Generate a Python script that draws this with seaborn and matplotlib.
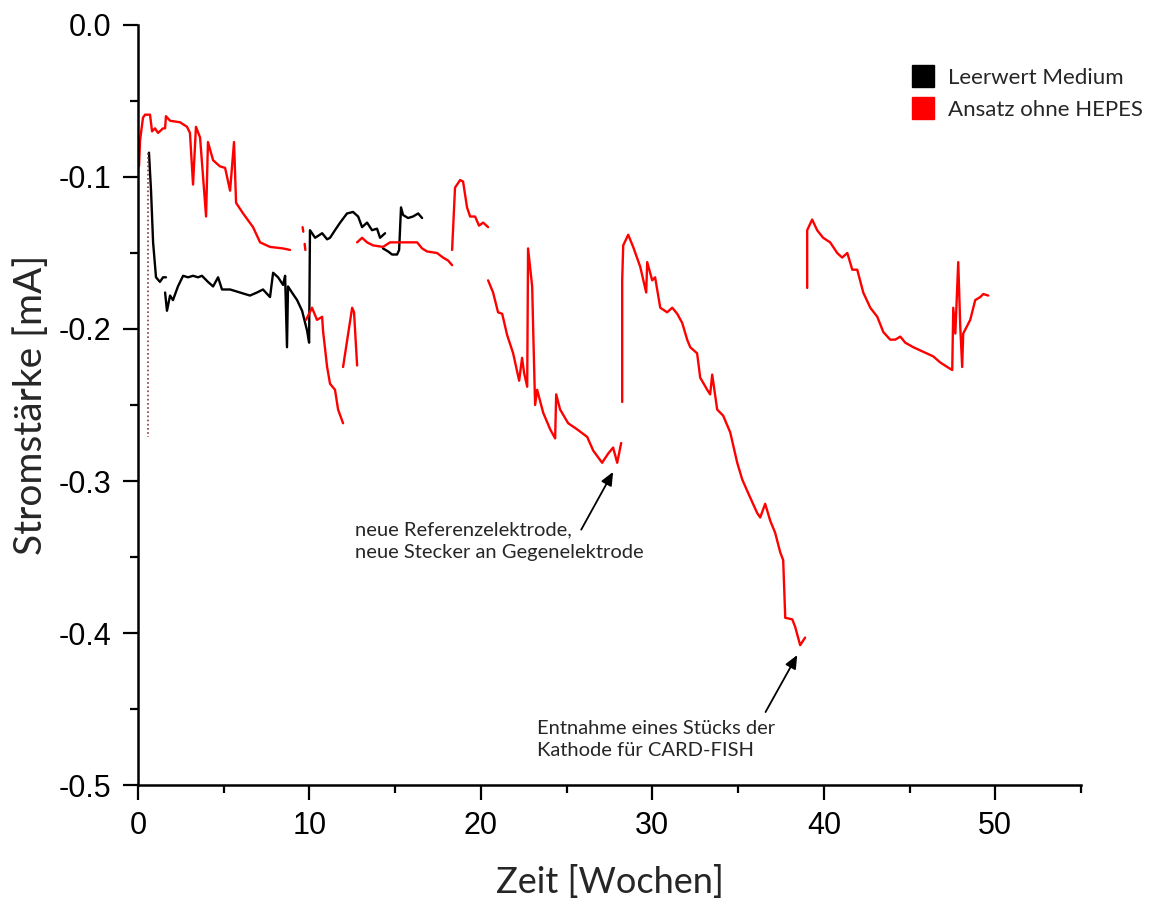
import numpy as np
import pandas as pd
import matplotlib
matplotlib.use("Agg")
import matplotlib.pyplot as plt
import seaborn as sns
from matplotlib.lines import Line2D
from matplotlib.ticker import MultipleLocator, FormatStrFormatter

# ---------------- data ----------------
series_names = ["Leerwert Medium", "Ansatz ohne HEPES"]
series_colors = {"Leerwert Medium": "#000000", "Ansatz ohne HEPES": "#ff0000"}

# Leerwert Medium (black) - one list per recorded segment
black_weeks = [
    [0.64, 0.76, 0.88, 1.05, 1.28, 1.46, 1.63],
    [1.58, 1.69, 1.87, 2.04, 2.33, 2.63, 2.92, 3.21, 3.50, 3.73, 4.08, 4.38, 4.67, 4.90,
     5.37, 5.95, 6.53, 6.94, 7.29, 7.70, 7.88, 8.17, 8.46, 8.58, 8.69, 8.75, 8.98, 9.28,
     9.57, 9.86, 9.98, 10.03, 10.33, 10.74, 11.03, 11.20, 11.49, 11.79, 12.19, 12.54,
     12.84, 13.07, 13.36, 13.65, 13.94, 14.12, 14.41],
    [14.29, 14.59, 14.82, 15.11, 15.23, 15.34, 15.46, 15.75, 16.04, 16.34, 16.57],
]
black_values = [
    [-0.084, -0.109, -0.143, -0.166, -0.169, -0.166, -0.166],
    [-0.176, -0.188, -0.178, -0.181, -0.172, -0.165, -0.166, -0.165, -0.166, -0.165, -0.169,
     -0.172, -0.166, -0.174, -0.174, -0.176, -0.178, -0.176, -0.174, -0.179, -0.163, -0.166,
     -0.171, -0.165, -0.212, -0.172, -0.176, -0.181, -0.188, -0.201, -0.209, -0.135, -0.140,
     -0.137, -0.141, -0.140, -0.135, -0.130, -0.124, -0.123, -0.126, -0.133, -0.130, -0.135,
     -0.134, -0.140, -0.137],
    [-0.147, -0.149, -0.151, -0.151, -0.148, -0.120, -0.125, -0.127, -0.126, -0.124, -0.127],
]
# short dotted trace at the very start of the blank run
dotted_weeks = [0.58, 0.58]
dotted_values = [-0.084, -0.271]

# Ansatz ohne HEPES (red)
red_weeks = [
    [0.06, 0.12, 0.29, 0.41, 0.70, 0.82, 0.99, 1.17, 1.46, 1.58, 1.63, 1.87, 2.45, 2.86,
     3.03, 3.21, 3.38, 3.62, 3.97, 4.08, 4.38, 4.78, 5.08, 5.37, 5.60, 5.72, 6.13, 6.71,
     7.12, 7.70, 8.46, 8.87],
    [9.60, 9.64],
    [9.72, 9.76],
    [9.80, 10.15, 10.44, 10.74, 10.79, 11.03, 11.20, 11.49, 11.67, 11.96],
    [11.96, 12.49, 12.60, 12.78],
    [12.78, 13.07, 13.36, 13.71, 14.29, 14.70, 15.29, 15.75, 16.28, 16.57, 16.86, 17.44,
     17.79, 18.09, 18.32],
    [18.32, 18.49, 18.79, 18.96, 19.19, 19.37, 19.66, 19.89, 20.13, 20.42],
    [20.42, 20.71, 21.00, 21.24, 21.53, 21.88, 22.23, 22.40, 22.52, 22.70, 22.75, 22.99,
     23.05, 23.16, 23.28, 23.63, 24.04, 24.33, 24.39, 24.62, 25.09, 25.61, 26.20, 26.55,
     27.07, 27.42, 27.71, 27.95, 28.18],
    [28.24, 28.24, 28.30, 28.59, 28.88, 29.29, 29.64, 29.70, 29.99, 30.16, 30.46, 30.86,
     31.16, 31.45, 31.74, 32.03, 32.21, 32.61, 32.79, 33.20, 33.37, 33.49, 33.78, 34.13,
     34.54, 34.95, 35.24, 35.71, 36.11, 36.29, 36.58, 36.87, 37.16, 37.46, 37.63, 37.75,
     38.16, 38.33, 38.62, 38.91],
    [39.03, 39.03, 39.32, 39.61, 39.96, 40.37, 40.78, 41.07, 41.37, 41.66, 41.95, 42.30,
     42.71, 43.12, 43.47, 43.87, 44.17, 44.46, 44.75, 45.22, 45.80, 46.38, 46.79, 47.20,
     47.49, 47.55, 47.67, 47.84, 47.96, 48.07, 48.13, 48.54, 48.83, 49.12, 49.30, 49.59],
]
red_values = [
    [-0.093, -0.076, -0.061, -0.059, -0.059, -0.070, -0.068, -0.071, -0.068, -0.068, -0.060,
     -0.063, -0.064, -0.067, -0.071, -0.105, -0.067, -0.074, -0.126, -0.077, -0.089, -0.093,
     -0.094, -0.109, -0.077, -0.117, -0.124, -0.133, -0.143, -0.146, -0.147, -0.148],
    [-0.133, -0.136],
    [-0.144, -0.148],
    [-0.194, -0.186, -0.194, -0.192, -0.201, -0.225, -0.236, -0.240, -0.253, -0.262],
    [-0.225, -0.186, -0.189, -0.224],
    [-0.143, -0.140, -0.143, -0.145, -0.146, -0.143, -0.143, -0.143, -0.143, -0.147, -0.149,
     -0.150, -0.153, -0.155, -0.158],
    [-0.148, -0.107, -0.102, -0.103, -0.120, -0.126, -0.126, -0.132, -0.130, -0.133],
    [-0.168, -0.176, -0.189, -0.190, -0.204, -0.216, -0.234, -0.219, -0.229, -0.238, -0.147,
     -0.172, -0.201, -0.250, -0.240, -0.255, -0.266, -0.272, -0.243, -0.253, -0.262, -0.266,
     -0.271, -0.280, -0.288, -0.282, -0.278, -0.288, -0.275],
    [-0.248, -0.168, -0.145, -0.138, -0.146, -0.159, -0.176, -0.156, -0.168, -0.166, -0.186,
     -0.189, -0.186, -0.190, -0.196, -0.207, -0.212, -0.216, -0.232, -0.240, -0.243, -0.230,
     -0.253, -0.257, -0.268, -0.288, -0.299, -0.311, -0.321, -0.324, -0.315, -0.326, -0.334,
     -0.347, -0.352, -0.390, -0.391, -0.396, -0.408, -0.403],
    [-0.173, -0.135, -0.128, -0.135, -0.140, -0.143, -0.150, -0.153, -0.150, -0.161, -0.161,
     -0.176, -0.186, -0.192, -0.202, -0.207, -0.207, -0.205, -0.209, -0.212, -0.215, -0.218,
     -0.222, -0.225, -0.227, -0.186, -0.203, -0.156, -0.199, -0.225, -0.203, -0.194, -0.181,
     -0.179, -0.177, -0.178],
]

x_ticks = [0, 10, 20, 30, 40, 50]
y_ticks = [0.0, -0.1, -0.2, -0.3, -0.4, -0.5]

note1_text = "neue Referenzelektrode,\nneue Stecker an Gegenelektrode"
note2_text = "Entnahme eines Stücks der\nKathode für CARD-FISH"

# ---------------- build a long table ----------------
rows = []
for name, W, V in [(series_names[0], black_weeks, black_values),
                   (series_names[1], red_weeks, red_values)]:
    for k, (ws, vs) in enumerate(zip(W, V)):
        for w, v in zip(ws, vs):
            rows.append((name, f"{name}-{k}", w, v))
df = pd.DataFrame(rows, columns=["series", "seg", "week", "value"])

# ---------------- style ----------------
sns.set_style("ticks")
plt.rcParams["font.family"] = ["Liberation Sans", "DejaVu Sans"]
plt.rcParams["axes.unicode_minus"] = False

fig = plt.figure(figsize=(11.5, 9.02), dpi=100)
ax = fig.add_axes([0.12, 0.1297, 0.82, 0.8426])

sns.lineplot(data=df, x="week", y="value", hue="series", units="seg",
             estimator=None, sort=False, palette=series_colors,
             hue_order=series_names, legend=False, linewidth=1.7, ax=ax)
ax.plot(dotted_weeks, dotted_values, linestyle=(0, (1, 1.5)), color="#8b3a3a", lw=1.2)

ax.set_xlim(0, 55)
ax.set_ylim(-0.5, 0.0)
ax.set_xticks(x_ticks)
ax.set_yticks(y_ticks)
ax.xaxis.set_minor_locator(MultipleLocator(5))
ax.yaxis.set_minor_locator(MultipleLocator(0.05))
ax.yaxis.set_major_formatter(FormatStrFormatter("%.1f"))

for s in ["top", "right"]:
    ax.spines[s].set_visible(False)
for s in ["left", "bottom"]:
    ax.spines[s].set_linewidth(1.8)
    ax.spines[s].set_color("black")

ax.tick_params(which="major", length=11, width=1.6, direction="out",
               labelsize=22, pad=8, colors="black")
ax.tick_params(which="minor", length=6, width=1.6, direction="out", colors="black")

ax.set_xlabel("Zeit [Wochen]", fontfamily="Lato", fontsize=26, labelpad=17)
ax.set_ylabel("Stromstärke [mA]", fontfamily="Lato", fontsize=28, labelpad=7)

# annotations
ax.text(12.66, -0.3265, note1_text, ha="left", va="top", fontfamily="Lato",
        fontsize=14.5, linespacing=1.4)
ax.annotate("", xy=(27.71, -0.294), xytext=(25.85, -0.332),
            arrowprops=dict(arrowstyle="-|>,head_length=0.8,head_width=0.35",
                            color="black", lw=1.3, shrinkA=0, shrinkB=0))
ax.text(23.28, -0.457, note2_text, ha="left", va="top", fontfamily="Lato",
        fontsize=14.5, linespacing=1.4)
ax.annotate("", xy=(38.45, -0.4145), xytext=(36.6, -0.452),
            arrowprops=dict(arrowstyle="-|>,head_length=0.8,head_width=0.35",
                            color="black", lw=1.3, shrinkA=0, shrinkB=0))

handles = [Line2D([], [], marker="s", linestyle="", markersize=16,
                  markerfacecolor=series_colors[n], markeredgecolor=series_colors[n])
           for n in series_names]
fig.legend(handles, series_names, loc="upper left",
           bbox_to_anchor=(912 / 1150, 1 - 68 / 902), frameon=False,
           prop={"family": "Lato", "size": 16}, handlelength=1.0,
           handletextpad=0.6, labelspacing=0.55, borderpad=0, borderaxespad=0)

fig.savefig("out.png", dpi=100)
